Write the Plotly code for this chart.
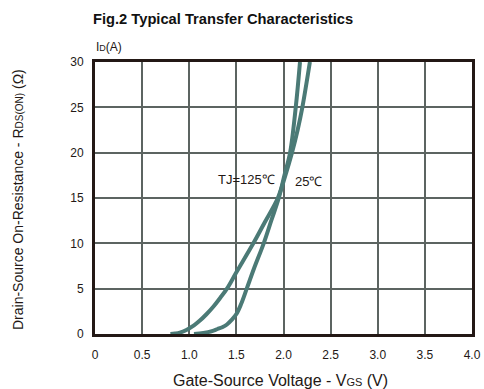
import plotly.graph_objects as go

# Data
vgs_125 = [0.80, 0.85, 0.90, 0.97, 1.05, 1.11, 1.18, 1.255, 1.33, 1.40, 1.50, 1.68, 1.80, 1.94, 2.02, 2.09, 2.15, 2.20, 2.28]
id_125 = [0, 0.05, 0.15, 0.45, 0.95, 1.45, 2.15, 3.0, 4.0, 5.0, 6.8, 10, 12.3, 15, 17.5, 20, 22.5, 25, 30]
vgs_25 = [1.05, 1.15, 1.25, 1.30, 1.35, 1.40, 1.45, 1.50, 1.55, 1.61, 1.69, 1.79, 1.87, 1.95, 2.01, 2.07, 2.13, 2.175]
id_25 = [0, 0.1, 0.35, 0.55, 0.75, 1.05, 1.55, 2.2, 3.3, 5.0, 7.3, 10, 12.5, 15, 17.5, 20, 25, 30]

x_ticks = [0, 0.5, 1.0, 1.5, 2.0, 2.5, 3.0, 3.5, 4.0]
x_ticktext = ["0", "0.5", "1.0", "1.5", "2.0", "2.5", "3.0", "3.5", "4.0"]
y_ticks = [0, 5, 10, 15, 20, 25, 30]
y_ticktext = ["0", "5", "10", "15", "20", "25", "30"]

line_color = "#4b7a76"
grid_color = "#5c6461"
frame_color = "#231815"
text_color = "#231815"
font_family = "Liberation Sans, Arial, sans-serif"

fig = go.Figure()
fig.add_trace(go.Scatter(x=vgs_125, y=id_125, mode="lines", name="TJ=125℃",
                         line=dict(color=line_color, width=4, shape="spline", smoothing=1.0)))
fig.add_trace(go.Scatter(x=vgs_25, y=id_25, mode="lines", name="25℃",
                         line=dict(color=line_color, width=4, shape="spline", smoothing=1.0)))

fig.update_layout(
    width=484, height=389,
    margin=dict(l=95, r=12, t=62, b=55),
    paper_bgcolor="white", plot_bgcolor="white",
    showlegend=False,
    font=dict(family=font_family, color=text_color, size=12),
    xaxis=dict(range=[0, 4], tickvals=x_ticks, ticktext=x_ticktext, automargin=False,
               showgrid=True, gridcolor=grid_color, gridwidth=2,
               showline=True, linecolor=frame_color, linewidth=3, mirror=True,
               ticks="", ticklabelstandoff=8, zeroline=False,
               tickfont=dict(size=12, color=text_color)),
    yaxis=dict(range=[0, 30], tickvals=y_ticks, ticktext=y_ticktext, automargin=False,
               showgrid=True, gridcolor=grid_color, gridwidth=2,
               showline=True, linecolor=frame_color, linewidth=3, mirror=True,
               ticks="", ticklabelstandoff=6, zeroline=False,
               tickfont=dict(size=12, color=text_color)),
    annotations=[
        dict(text="<b>Fig.2 Typical Transfer Characteristics</b>", xref="paper", yref="paper",
             x=0, xshift=-4, y=1.0, yshift=43, xanchor="left", yanchor="middle", showarrow=False,
             font=dict(size=14.7, color="#111111", family=font_family)),
        dict(text="I<span style='font-size:9px'>D</span>(A)", xref="paper", yref="paper",
             x=0, xshift=-1, y=1.0, yshift=15, xanchor="left", yanchor="middle", showarrow=False,
             font=dict(size=12, color=text_color)),
        dict(text="Drain-Source On-Resistance - R<span style='font-size:10px'>DS(ON)</span> (Ω)",
             xref="paper", yref="paper", x=0, xshift=-77, y=0.5, yshift=-2, textangle=-90,
             xanchor="center", yanchor="middle", showarrow=False,
             font=dict(size=14, color=text_color)),
        dict(text="Gate-Source Voltage - V<span style='font-size:11px'>GS</span> (V)",
             xref="paper", yref="paper", x=0.5, xshift=-3, y=0, yshift=-46,
             xanchor="center", yanchor="middle", showarrow=False,
             font=dict(size=16, color=text_color)),
        dict(text="TJ=125℃", x=1.93, y=17.0, xref="x", yref="y", xanchor="right",
             yanchor="middle", showarrow=False, font=dict(size=13, color=text_color)),
        dict(text="25℃", x=2.10, y=16.8, xref="x", yref="y", xanchor="left",
             yanchor="middle", showarrow=False, font=dict(size=13, color=text_color)),
    ],
)

fig.write_html("out.html", config={"displayModeBar": False},
               post_script="document.body.style.margin='0';")
